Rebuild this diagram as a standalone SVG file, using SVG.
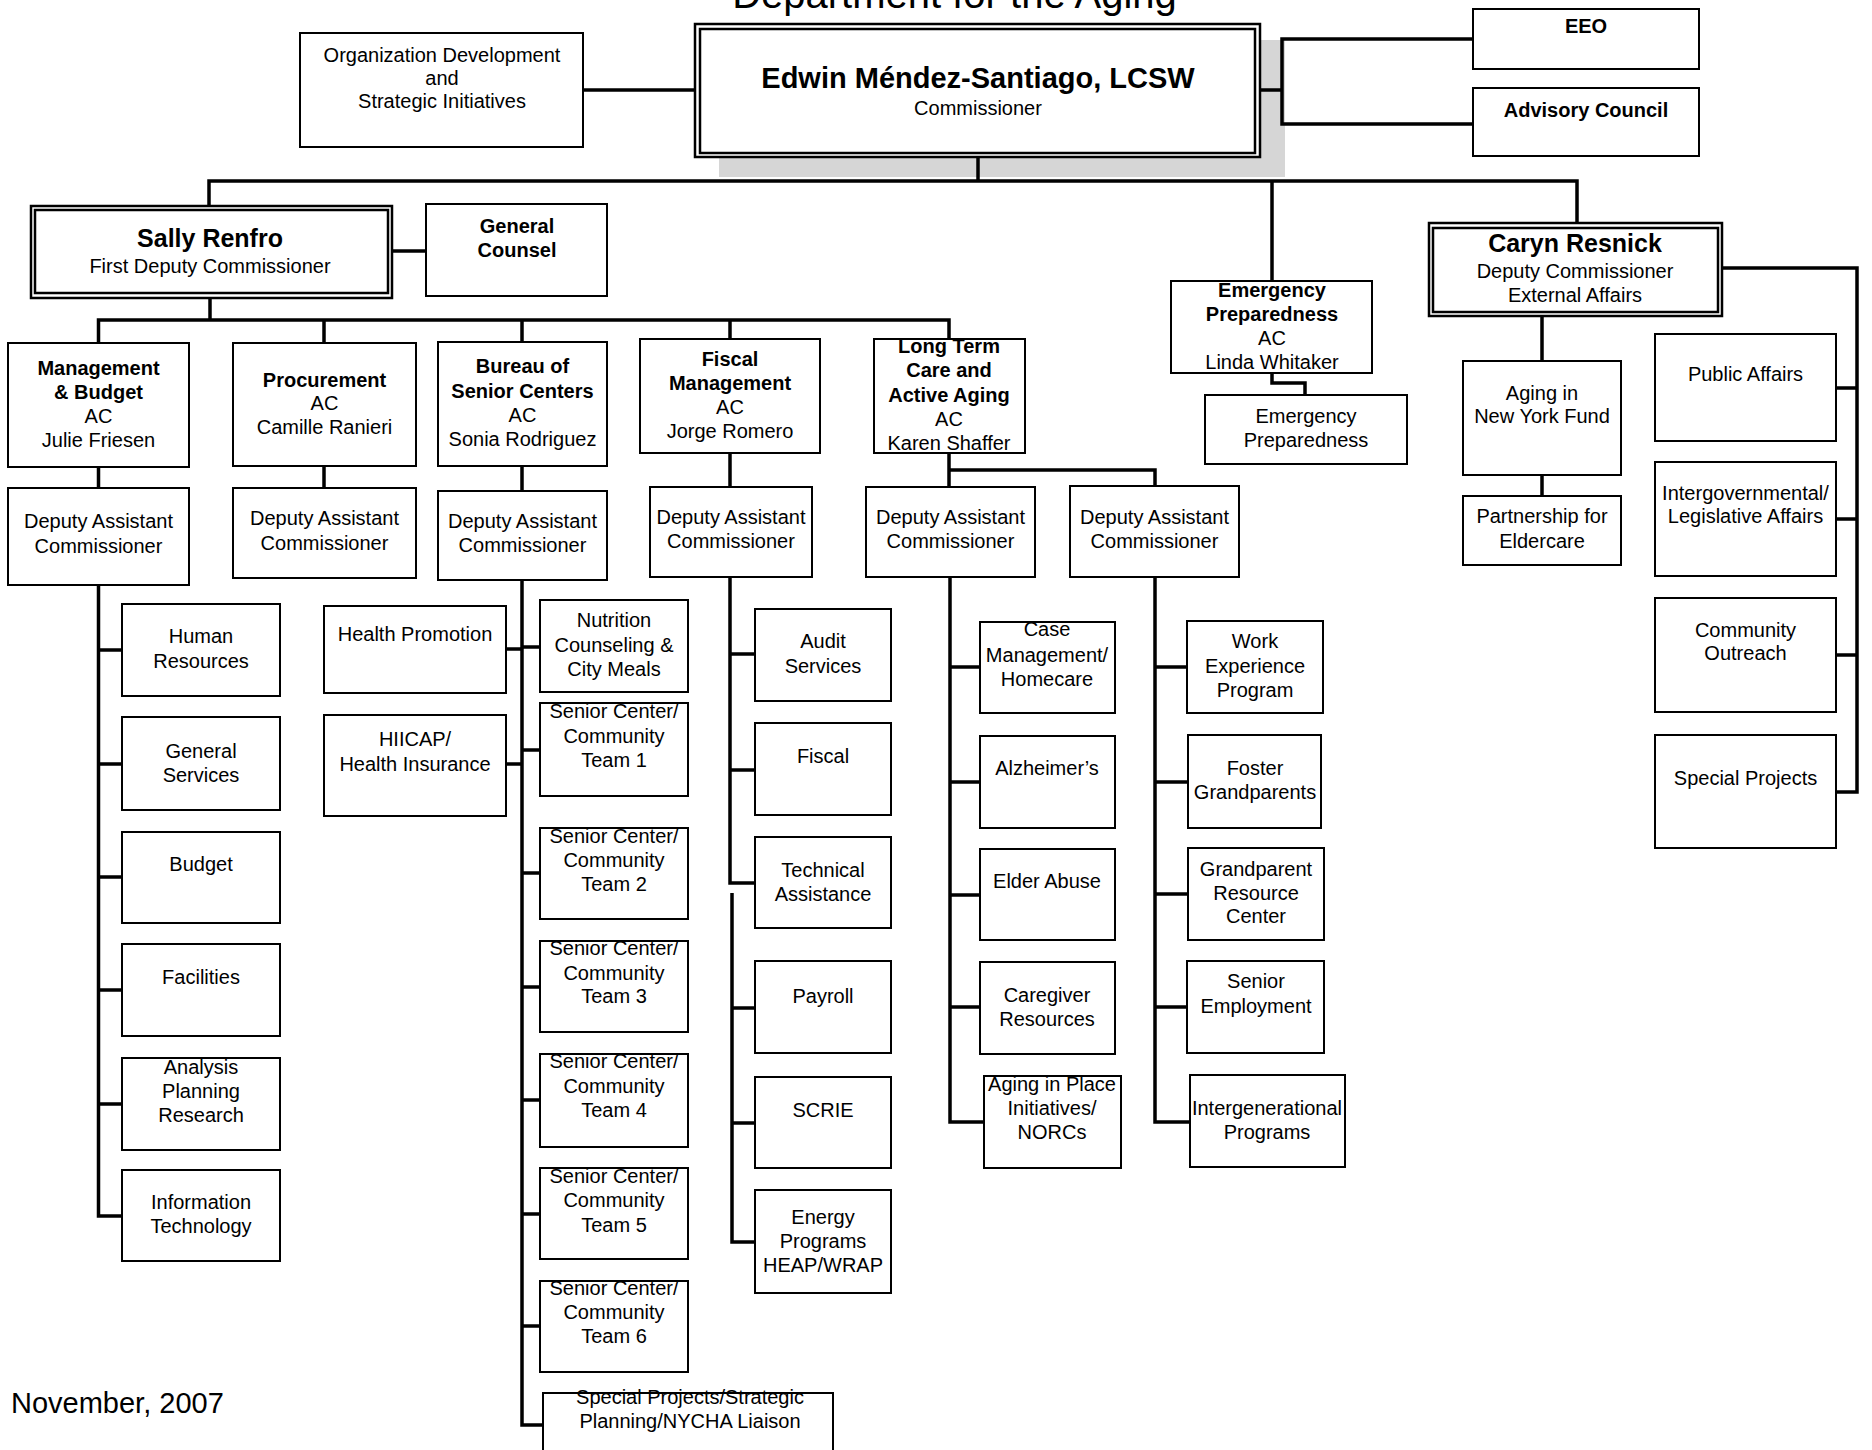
<svg xmlns="http://www.w3.org/2000/svg" width="1872" height="1450" viewBox="0 0 1872 1450">
<style>
.bg{fill:#fff}
.box{fill:#fff;stroke:#000;stroke-width:2}
.dbl{fill:#fff;stroke:#000;stroke-width:2.5}
.ln{fill:none;stroke:#000;stroke-width:3.5;stroke-linejoin:miter}
text{font-family:"Liberation Sans",Arial,sans-serif;font-size:20px;text-anchor:middle;fill:#000}
.b{font-weight:bold}
</style>
<rect class="bg" x="0" y="0" width="1872" height="1450"/>
<text x="954.5" y="8" style="font-size:40px">Department for the Aging</text>
<text x="11" y="1413" style="font-size:29px;text-anchor:start">November, 2007</text>

<g id="commissioner">
<rect x="719" y="40" width="566" height="137" fill="#d6d6d6"/>
<rect class="dbl" x="695" y="24" width="565" height="133"/>
<rect class="dbl" x="700" y="29" width="555" height="124"/>
<text class="b" x="978" y="88" style="font-size:29px">Edwin Méndez-Santiago, LCSW</text>
<text x="978" y="115">Commissioner</text>
</g>
<g id="org-dev">
<rect class="box" x="300" y="33" width="283" height="114"/>
<text x="442" y="62">Organization Development</text>
<text x="442" y="85">and</text>
<text x="442" y="108">Strategic Initiatives</text>
</g>
<g id="eeo">
<rect class="box" x="1473" y="9" width="226" height="60"/>
<text class="b" x="1586" y="33">EEO</text>
</g>
<g id="advisory-council">
<rect class="box" x="1473" y="88" width="226" height="68"/>
<text class="b" x="1586" y="117">Advisory Council</text>
</g>

<g id="sally-renfro">
<rect class="dbl" x="31" y="206" width="361" height="92"/>
<rect class="dbl" x="35" y="210" width="353" height="83"/>
<text class="b" x="210" y="247" style="font-size:25px">Sally Renfro</text>
<text x="210" y="273">First Deputy Commissioner</text>
</g>
<g id="general-counsel">
<rect class="box" x="426" y="204" width="181" height="92"/>
<text class="b" x="517" y="233">General</text>
<text class="b" x="517" y="257">Counsel</text>
</g>

<g id="emergency-ac">
<rect class="box" x="1171" y="281" width="201" height="92"/>
<text class="b" x="1272" y="297">Emergency</text>
<text class="b" x="1272" y="321">Preparedness</text>
<text x="1272" y="345">AC</text>
<text x="1272" y="369">Linda Whitaker</text>
</g>
<g id="emergency-prep">
<rect class="box" x="1205" y="395" width="202" height="69"/>
<text x="1306" y="423">Emergency</text>
<text x="1306" y="447">Preparedness</text>
</g>

<g id="caryn-resnick">
<rect class="dbl" x="1429" y="223" width="293" height="93"/>
<rect class="dbl" x="1433" y="228" width="285" height="84"/>
<text class="b" x="1575" y="252" style="font-size:25px">Caryn Resnick</text>
<text x="1575" y="278">Deputy Commissioner</text>
<text x="1575" y="302">External Affairs</text>
</g>
<g id="aging-ny-fund">
<rect class="box" x="1463" y="361" width="158" height="114"/>
<text x="1542" y="400">Aging in</text>
<text x="1542" y="423">New York Fund</text>
</g>
<g id="partnership-eldercare">
<rect class="box" x="1463" y="496" width="158" height="69"/>
<text x="1542" y="523">Partnership for</text>
<text x="1542" y="548">Eldercare</text>
</g>
<g id="public-affairs">
<rect class="box" x="1655" y="334" width="181" height="107"/>
<text x="1745.5" y="381">Public Affairs</text>
</g>
<g id="intergov-affairs">
<rect class="box" x="1655" y="462" width="181" height="114"/>
<text x="1745.5" y="500">Intergovernmental/</text>
<text x="1745.5" y="523">Legislative Affairs</text>
</g>
<g id="community-outreach">
<rect class="box" x="1655" y="598" width="181" height="114"/>
<text x="1745.5" y="637">Community</text>
<text x="1745.5" y="660">Outreach</text>
</g>
<g id="special-projects-ext">
<rect class="box" x="1655" y="735" width="181" height="113"/>
<text x="1745.5" y="785">Special Projects</text>
</g>

<g id="mgmt-budget">
<rect class="box" x="8" y="343" width="181" height="124"/>
<text class="b" x="98.5" y="375">Management</text>
<text class="b" x="98.5" y="399">&amp; Budget</text>
<text x="98.5" y="423">AC</text>
<text x="98.5" y="447">Julie Friesen</text>
</g>
<g id="procurement">
<rect class="box" x="233" y="343" width="183" height="123"/>
<text class="b" x="324.5" y="387">Procurement</text>
<text x="324.5" y="410">AC</text>
<text x="324.5" y="434">Camille Ranieri</text>
</g>
<g id="senior-centers">
<rect class="box" x="438" y="342" width="169" height="124"/>
<text class="b" x="522.5" y="373">Bureau of</text>
<text class="b" x="522.5" y="398">Senior Centers</text>
<text x="522.5" y="422">AC</text>
<text x="522.5" y="446">Sonia Rodriguez</text>
</g>
<g id="fiscal-mgmt">
<rect class="box" x="640" y="339" width="180" height="114"/>
<text class="b" x="730" y="366">Fiscal</text>
<text class="b" x="730" y="390">Management</text>
<text x="730" y="414">AC</text>
<text x="730" y="438">Jorge Romero</text>
</g>
<g id="long-term-care">
<rect class="box" x="874" y="339" width="151" height="114"/>
<text class="b" x="949" y="353">Long Term</text>
<text class="b" x="949" y="377">Care and</text>
<text class="b" x="949" y="402">Active Aging</text>
<text x="949" y="426">AC</text>
<text x="949" y="450">Karen Shaffer</text>
</g>

<g id="dac-mgmt">
<rect class="box" x="8" y="488" width="181" height="97"/>
<text x="98.5" y="528">Deputy Assistant</text>
<text x="98.5" y="553">Commissioner</text>
</g>
<g id="dac-proc">
<rect class="box" x="233" y="488" width="183" height="90"/>
<text x="324.5" y="525">Deputy Assistant</text>
<text x="324.5" y="550">Commissioner</text>
</g>
<g id="dac-senior">
<rect class="box" x="438" y="491" width="169" height="89"/>
<text x="522.5" y="528">Deputy Assistant</text>
<text x="522.5" y="552">Commissioner</text>
</g>
<g id="dac-fiscal">
<rect class="box" x="650" y="487" width="162" height="90"/>
<text x="731" y="524">Deputy Assistant</text>
<text x="731" y="548">Commissioner</text>
</g>
<g id="dac-ltc1">
<rect class="box" x="866" y="487" width="169" height="90"/>
<text x="950.5" y="524">Deputy Assistant</text>
<text x="950.5" y="548">Commissioner</text>
</g>
<g id="dac-ltc2">
<rect class="box" x="1070" y="486" width="169" height="91"/>
<text x="1154.5" y="524">Deputy Assistant</text>
<text x="1154.5" y="548">Commissioner</text>
</g>

<g id="human-resources"><rect class="box" x="122" y="604" width="158" height="92"/><text x="201" y="643">Human</text><text x="201" y="668">Resources</text></g>
<g id="general-services"><rect class="box" x="122" y="717" width="158" height="93"/><text x="201" y="758">General</text><text x="201" y="782">Services</text></g>
<g id="budget"><rect class="box" x="122" y="832" width="158" height="91"/><text x="201" y="871">Budget</text></g>
<g id="facilities"><rect class="box" x="122" y="944" width="158" height="92"/><text x="201" y="984">Facilities</text></g>
<g id="analysis"><rect class="box" x="122" y="1058" width="158" height="92"/><text x="201" y="1074">Analysis</text><text x="201" y="1098">Planning</text><text x="201" y="1122">Research</text></g>
<g id="info-tech"><rect class="box" x="122" y="1170" width="158" height="91"/><text x="201" y="1209">Information</text><text x="201" y="1233">Technology</text></g>

<g id="health-promotion"><rect class="box" x="324" y="606" width="182" height="87"/><text x="415" y="641">Health Promotion</text></g>
<g id="hiicap"><rect class="box" x="324" y="715" width="182" height="101"/><text x="415" y="746">HIICAP/</text><text x="415" y="771">Health Insurance</text></g>

<g id="nutrition"><rect class="box" x="540" y="600" width="148" height="92"/><text x="614" y="627">Nutrition</text><text x="614" y="652">Counseling &amp;</text><text x="614" y="676">City Meals</text></g>
<g id="team1"><rect class="box" x="540" y="703" width="148" height="93"/><text x="614" y="718">Senior Center/</text><text x="614" y="743">Community</text><text x="614" y="767">Team 1</text></g>
<g id="team2"><rect class="box" x="540" y="828" width="148" height="91"/><text x="614" y="843">Senior Center/</text><text x="614" y="867">Community</text><text x="614" y="891">Team 2</text></g>
<g id="team3"><rect class="box" x="540" y="941" width="148" height="91"/><text x="614" y="955">Senior Center/</text><text x="614" y="980">Community</text><text x="614" y="1003">Team 3</text></g>
<g id="team4"><rect class="box" x="540" y="1054" width="148" height="93"/><text x="614" y="1068">Senior Center/</text><text x="614" y="1093">Community</text><text x="614" y="1117">Team 4</text></g>
<g id="team5"><rect class="box" x="540" y="1168" width="148" height="91"/><text x="614" y="1183">Senior Center/</text><text x="614" y="1207">Community</text><text x="614" y="1232">Team 5</text></g>
<g id="team6"><rect class="box" x="540" y="1281" width="148" height="91"/><text x="614" y="1295">Senior Center/</text><text x="614" y="1319">Community</text><text x="614" y="1343">Team 6</text></g>
<g id="special-projects-strategic"><rect class="box" x="543" y="1393" width="290" height="70"/><text x="690" y="1404">Special Projects/Strategic</text><text x="690" y="1428">Planning/NYCHA Liaison</text></g>

<g id="audit"><rect class="box" x="755" y="609" width="136" height="92"/><text x="823" y="648">Audit</text><text x="823" y="673">Services</text></g>
<g id="fiscal"><rect class="box" x="755" y="723" width="136" height="92"/><text x="823" y="763">Fiscal</text></g>
<g id="tech-assist"><rect class="box" x="755" y="837" width="136" height="91"/><text x="823" y="877">Technical</text><text x="823" y="901">Assistance</text></g>
<g id="payroll"><rect class="box" x="755" y="961" width="136" height="92"/><text x="823" y="1003">Payroll</text></g>
<g id="scrie"><rect class="box" x="755" y="1077" width="136" height="91"/><text x="823" y="1117">SCRIE</text></g>
<g id="energy"><rect class="box" x="755" y="1190" width="136" height="103"/><text x="823" y="1224">Energy</text><text x="823" y="1248">Programs</text><text x="823" y="1272">HEAP/WRAP</text></g>

<g id="case-mgmt"><rect class="box" x="980" y="622" width="135" height="91"/><text x="1047" y="636">Case</text><text x="1047" y="662">Management/</text><text x="1047" y="686">Homecare</text></g>
<g id="alzheimers"><rect class="box" x="980" y="736" width="135" height="92"/><text x="1047" y="775">Alzheimer’s</text></g>
<g id="elder-abuse"><rect class="box" x="980" y="849" width="135" height="91"/><text x="1047" y="888">Elder Abuse</text></g>
<g id="caregiver"><rect class="box" x="980" y="962" width="135" height="92"/><text x="1047" y="1002">Caregiver</text><text x="1047" y="1026">Resources</text></g>
<g id="aging-in-place"><rect class="box" x="984" y="1076" width="137" height="92"/><text x="1052" y="1091">Aging in Place</text><text x="1052" y="1115">Initiatives/</text><text x="1052" y="1139">NORCs</text></g>

<g id="work-experience"><rect class="box" x="1187" y="621" width="136" height="92"/><text x="1255" y="648">Work</text><text x="1255" y="673">Experience</text><text x="1255" y="697">Program</text></g>
<g id="foster-grandparents"><rect class="box" x="1188" y="735" width="133" height="93"/><text x="1255" y="775">Foster</text><text x="1255" y="799">Grandparents</text></g>
<g id="grandparent-resource"><rect class="box" x="1188" y="848" width="136" height="92"/><text x="1256" y="876">Grandparent</text><text x="1256" y="900">Resource</text><text x="1256" y="923">Center</text></g>
<g id="senior-employment"><rect class="box" x="1187" y="961" width="137" height="92"/><text x="1256" y="988">Senior</text><text x="1256" y="1013">Employment</text></g>
<g id="intergenerational"><rect class="box" x="1190" y="1075" width="155" height="92"/><text x="1267" y="1115">Intergenerational</text><text x="1267" y="1139">Programs</text></g>

<g id="connectors">
<path class="ln" d="M584,90 H695"/>
<path class="ln" d="M1473,39 H1282 V124 H1473 M1260,90 H1282"/>
<path class="ln" d="M978,157 V181"/>
<path class="ln" d="M209,206 V181 H1577 V223"/>
<path class="ln" d="M1272,181 V281"/>
<path class="ln" d="M392,251 H426"/>
<path class="ln" d="M210,298 V320"/>
<path class="ln" d="M98.5,343 V320 H949 V339 M324,320 V343 M522,320 V342 M730,320 V339"/>
<path class="ln" d="M98.5,467 V488 M324,466 V488 M522,466 V491 M730,453 V487"/>
<path class="ln" d="M949,453 V487 M949,470 H1155 V486"/>
<path class="ln" d="M1272,373 V383 H1305 V395"/>
<path class="ln" d="M1722,268 H1857 V792 H1836 M1836,388 H1857 M1836,519 H1857 M1836,655 H1857"/>
<path class="ln" d="M1542,316 V361 M1542,475 V496"/>
<path class="ln" d="M98.5,585 V1216 H122 M98.5,650 H122 M98.5,764 H122 M98.5,877 H122 M98.5,990 H122 M98.5,1104 H122"/>
<path class="ln" d="M522,580 V1425 H542 M522,647 H540 M522,750 H540 M522,873 H540 M522,987 H540 M522,1100 H540 M522,1214 H540 M522,1326 H540 M506,649 H522 M506,764 H522"/>
<path class="ln" d="M730,577 V883 H755 M730,654 H755 M730,770 H755 M732,893 V1242 H755 M732,1008 H755 M732,1123 H755"/>
<path class="ln" d="M950,577 V1122 H984 M950,667 H980 M950,782 H980 M950,895 H980 M950,1007 H980"/>
<path class="ln" d="M1155,577 V1122 H1190 M1155,667 H1187 M1155,782 H1188 M1155,894 H1188 M1155,1007 H1187"/>
</g>
</svg>
